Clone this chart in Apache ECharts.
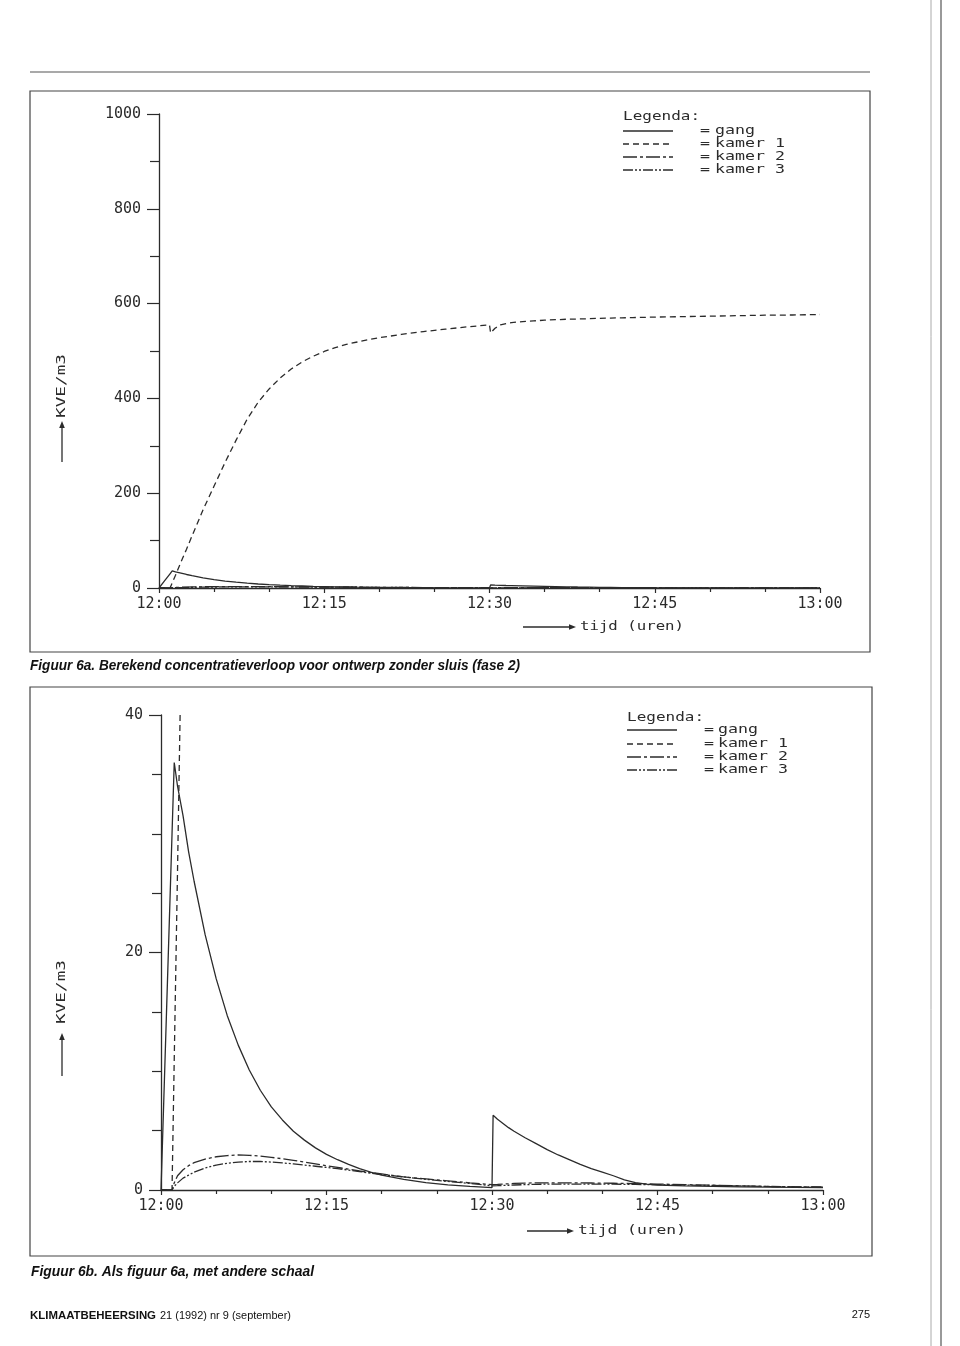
<!DOCTYPE html>
<html><head><meta charset="utf-8">
<script src="https://cdn.jsdelivr.net/npm/echarts@6/dist/echarts.min.js"></script>
<style>html,body{margin:0;padding:0;background:#fff}#c{width:960px;height:1346px}</style>
</head><body><div id="c"></div>
<script>
// ---- data (time in minutes after 12:00) ----
const minutes = [0, 0.5, 1, 1.2, 1.5, 2, 2.5, 3, 4, 5, 6, 7, 8, 9, 10, 11, 12, 13, 14, 15, 16, 17, 18, 19, 20, 22, 24, 26, 28, 30, 30.1, 30.5, 31, 31.5, 32, 33, 34, 35, 36, 37, 38, 39, 40, 41, 42, 43, 44, 45, 47.5, 50, 52.5, 55, 57.5, 60];
const gang   = [0, 15, 30, 36, 34, 31.5, 28.5, 26, 21.5, 17.8, 14.7, 12.2, 10.1, 8.4, 7.0, 5.9, 4.95, 4.2, 3.55, 3.0, 2.55, 2.15, 1.8, 1.5, 1.25, 0.9, 0.62, 0.43, 0.3, 0.2, 6.3, 5.95, 5.6, 5.25, 4.95, 4.4, 3.9, 3.4, 2.95, 2.55, 2.15, 1.8, 1.5, 1.2, 0.85, 0.62, 0.5, 0.42, 0.35, 0.3, 0.27, 0.24, 0.22, 0.2];
const kamer1 = [0, 0, 0, 11, 27, 55, 82, 110, 165, 215, 265, 312, 356, 392, 420, 443, 462, 477, 489, 499, 507, 514, 519, 524, 528, 535, 541, 546, 551, 555, 538, 548, 555, 558, 560, 562, 563.5, 565, 566, 567, 567.5, 568, 569, 569.5, 570, 570.5, 571, 571.5, 572.5, 573.5, 574.5, 575.5, 576, 577];
const kamer2 = [0, 0, 0, 0.6, 1.2, 1.7, 2.05, 2.3, 2.6, 2.8, 2.9, 2.95, 2.92, 2.85, 2.75, 2.63, 2.5, 2.35, 2.2, 2.05, 1.9, 1.75, 1.6, 1.47, 1.35, 1.1, 0.93, 0.77, 0.6, 0.45, 0.45, 0.47, 0.5, 0.52, 0.55, 0.58, 0.6, 0.6, 0.6, 0.6, 0.6, 0.59, 0.58, 0.57, 0.55, 0.53, 0.51, 0.5, 0.45, 0.4, 0.35, 0.3, 0.27, 0.25];
const kamer3 = [0, 0, 0, 0.3, 0.6, 1.0, 1.25, 1.5, 1.85, 2.1, 2.25, 2.35, 2.4, 2.4, 2.35, 2.28, 2.2, 2.1, 2.0, 1.9, 1.8, 1.68, 1.55, 1.42, 1.3, 1.1, 0.9, 0.72, 0.55, 0.35, 0.35, 0.36, 0.38, 0.4, 0.42, 0.45, 0.48, 0.49, 0.5, 0.5, 0.5, 0.5, 0.5, 0.49, 0.48, 0.47, 0.46, 0.45, 0.41, 0.38, 0.34, 0.3, 0.27, 0.25];
const seriesNames = ['gang', 'kamer 1', 'kamer 2', 'kamer 3'];
const xTickLabels = ['12:00', '12:15', '12:30', '12:45', '13:00'];
const yName = 'KVE/m3';
const xName = 'tijd (uren)';
const caption1 = 'Figuur 6a. Berekend concentratieverloop voor ontwerp zonder sluis (fase 2)';
const caption2 = 'Figuur 6b. Als figuur 6a, met andere schaal';
const footerBold = 'KLIMAATBEHEERSING';
const footerRest = '21 (1992) nr 9 (september)';
const pageNo = '275';

// ---- rendering ----
const INK = '#2b2b2b';
const MONO = '"DejaVu Sans Mono", monospace';
const chart = echarts.init(document.getElementById('c'), null, {renderer: 'canvas', width: 960, height: 1346});
const cv = document.createElement('canvas').getContext('2d');
function fitScale(text, font, w) { cv.font = font; return w / cv.measureText(text).width; }
function txt(text, x, y, font, opts) {
  opts = opts || {};
  const s = opts.w ? fitScale(text, font, opts.w) : (opts.scale || 1);
  const al = opts.align || 'left';
  return {type: 'text', x: x, y: y, rotation: opts.rot || 0, scaleX: s, silent: true, z: 10,
    style: {text: text, x: 0, y: 0, font: font, fill: opts.fill || INK,
      textAlign: al, align: al, textVerticalAlign: 'middle', verticalAlign: 'middle'}};
}
function arrow(x1, y1, x2, y2) {
  const a = Math.atan2(y2 - y1, x2 - x1), L = 7, W = 2.8;
  const bx = x2 - L * Math.cos(a), by = y2 - L * Math.sin(a);
  const px = -Math.sin(a) * W, py = Math.cos(a) * W;
  return [
    {type: 'line', silent: true, shape: {x1: x1, y1: y1, x2: bx, y2: by}, style: {stroke: INK, lineWidth: 1.3}},
    {type: 'polygon', silent: true, shape: {points: [[x2, y2], [bx + px, by + py], [bx - px, by - py]]}, style: {fill: INK}}
  ];
}
const dashes = [null, [6, 4], [14, 3, 3, 3], [10, 2, 2, 2, 2, 2]];
const LFONT = '13px ' + MONO;
const labScale = fitScale('kamer 1', LFONT, 70);
function legend(x0, yT, rows, eqX, labX) {
  const els = [txt('Legenda:', x0, yT, LFONT, {w: 77})];
  seriesNames.forEach(function (n, i) {
    els.push({type: 'line', silent: true, shape: {x1: x0, y1: rows[i], x2: x0 + 50, y2: rows[i]},
      style: {stroke: INK, lineWidth: 1.3, lineDash: dashes[i] || null}});
    els.push(txt('=', eqX, rows[i], LFONT, {scale: labScale}));
    els.push(txt(n, labX, rows[i], LFONT, {scale: labScale}));
  });
  return els;
}
function mkX(g) {
  return {type: 'value', gridIndex: g, min: 0, max: 60, interval: 15,
    axisLine: {show: true, onZero: true, lineStyle: {color: INK, width: 1.3}},
    axisTick: {show: true, length: 5, lineStyle: {color: INK, width: 1.2}},
    minorTick: {show: true, splitNumber: 3, length: 4, lineStyle: {color: INK, width: 1.2}},
    splitLine: {show: false}, minorSplitLine: {show: false},
    axisLabel: {showMinLabel: true, showMaxLabel: true, formatter: function (v) { return xTickLabels[Math.round(v / 15)]; },
      fontFamily: MONO, fontSize: 15, color: INK, margin: 9}};
}
function mkY(g, max, interval, minor) {
  return {type: 'value', gridIndex: g, min: 0, max: max, interval: interval,
    axisLine: {show: true, lineStyle: {color: INK, width: 1.3}},
    axisTick: {show: true, length: 12, lineStyle: {color: INK, width: 1.2}},
    minorTick: {show: true, splitNumber: minor, length: 9, lineStyle: {color: INK, width: 1.2}},
    splitLine: {show: false}, minorSplitLine: {show: false},
    axisLabel: {showMinLabel: true, showMaxLabel: true, formatter: function (v) { return String(v); },
      fontFamily: MONO, fontSize: 15, color: INK, margin: 18}};
}
const seriesData = [gang, kamer1, kamer2, kamer3];
const series = [];
[0, 1].forEach(function (g) {
  seriesData.forEach(function (vals, i) {
    series.push({type: 'line', name: seriesNames[i], xAxisIndex: g, yAxisIndex: g,
      data: minutes.map(function (t, k) { return [t, vals[k]]; }),
      showSymbol: false, symbol: 'none', clip: true, silent: true, z: 3,
      lineStyle: {color: INK, width: 1.3, type: dashes[i] || 'solid'}});
  });
});

const capFont = 'italic bold 14px "Liberation Sans", Arial, sans-serif';
const g = [];
// page rule & frames
g.push({type: 'line', silent: true, shape: {x1: 30, y1: 72, x2: 870, y2: 72}, style: {stroke: '#555', lineWidth: 1.2}});
g.push({type: 'rect', silent: true, shape: {x: 30, y: 91, width: 840, height: 561}, style: {fill: 'none', stroke: '#444', lineWidth: 1.2}});
g.push({type: 'rect', silent: true, shape: {x: 30, y: 687, width: 842, height: 569}, style: {fill: 'none', stroke: '#444', lineWidth: 1.2}});
// binding shadow at right edge
g.push({type: 'line', silent: true, shape: {x1: 931, y1: 0, x2: 931, y2: 1346}, style: {stroke: '#aaa', lineWidth: 1}});
g.push({type: 'line', silent: true, shape: {x1: 941, y1: 0, x2: 941, y2: 1346}, style: {stroke: '#777', lineWidth: 1.5}});
// legends
legend(623, 117, [131, 144, 157, 170], 700, 715).forEach(function (e) { g.push(e); });
legend(627, 718, [730, 744, 757, 770], 704, 718).forEach(function (e) { g.push(e); });
// y names
const YF = '13px ' + MONO;
arrow(62, 462, 62, 421).forEach(function (e) { g.push(e); });
g.push(txt(yName, 62, 386, YF, {w: 64, rot: Math.PI / 2, align: 'center'}));
arrow(62, 1076, 62, 1033).forEach(function (e) { g.push(e); });
g.push(txt(yName, 62, 992, YF, {w: 64, rot: Math.PI / 2, align: 'center'}));
// x names
arrow(523, 627, 576, 627).forEach(function (e) { g.push(e); });
g.push(txt(xName, 580, 627, YF, {w: 104}));
arrow(527, 1231, 574, 1231).forEach(function (e) { g.push(e); });
g.push(txt(xName, 578, 1231, YF, {w: 108}));
// captions
g.push(txt(caption1, 30, 666, capFont, {w: 490, fill: '#111'}));
g.push(txt(caption2, 31, 1272, capFont, {w: 283, fill: '#111'}));
// footer
const fbFont = 'bold 11px "Liberation Sans", Arial, sans-serif';
const frFont = '11px "Liberation Sans", Arial, sans-serif';
g.push(txt(footerBold, 30, 1316, fbFont, {w: 126, fill: '#111'}));
g.push(txt(footerRest, 160, 1316, frFont, {w: 131, fill: '#111'}));
g.push(txt(pageNo, 870, 1315, frFont, {align: 'right', fill: '#111'}));

chart.setOption({
  animation: false,
  backgroundColor: '#fff',
  grid: [{left: 159, top: 114, width: 661, height: 474}, {left: 161, top: 715, width: 662, height: 475}],
  xAxis: [mkX(0), mkX(1)],
  yAxis: [mkY(0, 1000, 200, 2), mkY(1, 40, 20, 4)],
  series: series,
  graphic: {elements: g}
});
</script>
</body></html>
